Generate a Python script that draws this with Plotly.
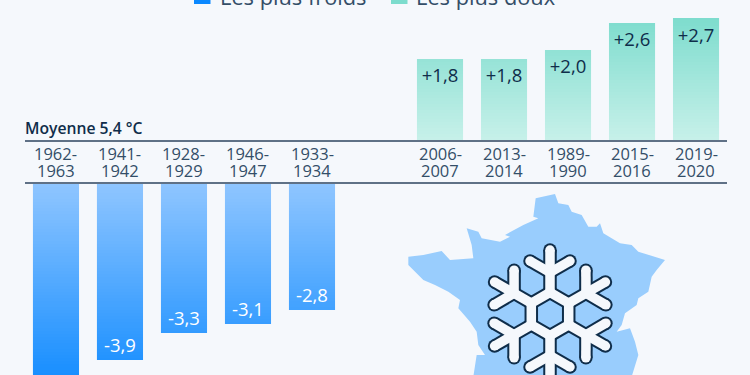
import math
import plotly.graph_objects as go

cold_periods = ["1962-<br>1963", "1941-<br>1942", "1928-<br>1929", "1946-<br>1947", "1933-<br>1934"]
cold_values = [-4.7, -3.9, -3.3, -3.1, -2.8]
cold_labels = ["-4,7", "-3,9", "-3,3", "-3,1", "-2,8"]
warm_periods = ["2006-<br>2007", "2013-<br>2014", "1989-<br>1990", "2015-<br>2016", "2019-<br>2020"]
warm_values = [1.8, 1.8, 2.0, 2.6, 2.7]
warm_labels = ["+1,8", "+1,8", "+2,0", "+2,6", "+2,7"]
spacer = " "
all_cats = cold_periods + [spacer] + warm_periods

BG = "#f5f8fc"
DARK = "#0f2d4a"
TICK = "#334e68"
LINE = "#5f7186"
FONT = "Open Sans"
PX_PER_UNIT = 45.0
W, H = 750, 375
BASE_TOP, BASE_BOT = 140, 184


def mix(a, b, t):
    return "rgb(%d,%d,%d)" % tuple(round(a[i] + (b[i] - a[i]) * t) for i in range(3))


fig = go.Figure()
STEP = 1 / 15


def gradient(values, cats, xa, ya, c0, c1, vmax):
    sign = 1 if values[0] > 0 else -1
    n = int(vmax / STEP) + 1
    for i in range(n):
        lo, hi = i * STEP, (i + 1) * STEP
        heights = [max(0, min(abs(v), hi) - lo) * sign for v in values]
        fig.add_bar(x=cats, y=heights, base=lo * sign, xaxis=xa, yaxis=ya, width=0.72,
                    marker=dict(color=mix(c0, c1, i / n), line=dict(width=0)),
                    hoverinfo="skip", showlegend=False)


gradient(warm_values, warm_periods, "x", "y", (198, 240, 233), (124, 220, 205), 2.7)
gradient(cold_values, cold_periods, "x2", "y2", (142, 197, 255), (10, 136, 255), 4.7)

fig.add_bar(x=warm_periods, y=warm_values, text=warm_labels, xaxis="x", yaxis="y", width=0.72,
            marker=dict(color="rgba(0,0,0,0)", line=dict(width=0)),
            textposition="inside", insidetextanchor="end", textangle=0, constraintext="none",
            insidetextfont=dict(family=FONT, size=18.5, color=DARK, weight=500),
            hoverinfo="skip", showlegend=False)
fig.add_bar(x=cold_periods, y=cold_values, text=cold_labels, xaxis="x2", yaxis="y2", width=0.72,
            marker=dict(color="rgba(0,0,0,0)", line=dict(width=0)),
            textposition="inside", insidetextanchor="end", textangle=0, constraintext="none",
            insidetextfont=dict(family=FONT, size=18.5, color="#ffffff", weight=500),
            hoverinfo="skip", showlegend=False)

# Decorative map of France (zoom-crop outline, converted to page pixels)
map_outline = [(437,40),(495,27),(505,55),(535,60),(545,80),(575,90),(595,125),(620,125),(630,115),(640,145),
               (690,175),(725,180),(745,200),(790,215),(825,225),(800,255),(785,275),(775,320),(745,340),(740,360),
               (705,385),(695,420),(680,440),(720,430),(735,470),(745,510),(735,540),(725,575),(250,575),(255,540),
               (260,510),(285,510),(265,480),(260,440),(240,410),(205,370),(210,345),(175,320),(135,300),(100,285),
               (80,265),(55,240),(55,215),(100,210),(155,198),(180,225),(250,220),(245,180),(230,130),(265,140),
               (275,160),(330,170),(360,155),(345,150),(400,120),(445,100),(430,95),(437,40)]
fig.add_scatter(x=[390 + p[0] / 3 for p in map_outline], y=[185 + p[1] / 3 for p in map_outline],
                xaxis="x3", yaxis="y3", mode="lines", fill="toself", fillcolor="#99cdfd",
                line=dict(width=0, color="#99cdfd"), hoverinfo="skip", showlegend=False)

# Decorative snowflake
cx, cy = 550, 314
R_RING, R_NODE, R_TIP = 21.6, 41.5, 64
BX, BY = 20, 53
sx, sy = [], []
for k in range(6):
    a = math.radians(60 * k)
    ca, sa = math.cos(a), math.sin(a)
    rot = lambda x, y: (cx + x * ca - y * sa, cy + x * sa + y * ca)
    for seg in ([(0, -R_RING), (0, -R_TIP)], [(0, -R_NODE), (-BX, -BY)], [(0, -R_NODE), (BX, -BY)]):
        for p in seg:
            q = rot(*p)
            sx.append(q[0]); sy.append(q[1])
        sx.append(None); sy.append(None)
ring = [(cx + R_RING * math.sin(math.radians(60 * k)), cy - R_RING * math.cos(math.radians(60 * k))) for k in range(7)]
sx += [p[0] for p in ring]
sy += [p[1] for p in ring]
for color, width in ((DARK, 13.5), (BG, 9.5)):
    fig.add_scatter(x=sx, y=sy, xaxis="x3", yaxis="y3", mode="lines+markers",
                    line=dict(color=color, width=width),
                    marker=dict(color=color, size=width, line=dict(width=0)),
                    hoverinfo="skip", showlegend=False)

# Two-line category labels with the reference's tight line spacing
tick_annotations = []
for cat in cold_periods + warm_periods:
    for line_text, py in zip(cat.split("<br>"), (153.5, 170.5)):
        tick_annotations.append(dict(text=line_text, xref="x", yref="paper", x=cat, y=1 - py / H,
                                     xanchor="center", yanchor="middle", showarrow=False,
                                     font=dict(family=FONT, size=16.5, color=TICK)))

fig.update_layout(
    width=W, height=H, margin=dict(l=0, r=0, t=0, b=0), autosize=False,
    paper_bgcolor=BG, plot_bgcolor="rgba(0,0,0,0)", barmode="overlay", showlegend=False,
    font=dict(family=FONT, color=TICK),
    xaxis=dict(domain=[25 / W, 727 / W], anchor="y", type="category", categoryorder="array",
               categoryarray=all_cats, range=[-0.484, 10.484], showticklabels=False,
               showgrid=False, zeroline=False, showline=True, linecolor=LINE, linewidth=1.5, ticks=""),
    yaxis=dict(domain=[(H - BASE_TOP) / H, 1], anchor="x", range=[0, BASE_TOP / PX_PER_UNIT], visible=False),
    xaxis2=dict(domain=[25 / W, 727 / W], anchor="y2", side="top", type="category", categoryorder="array",
                categoryarray=all_cats, range=[-0.484, 10.484], showticklabels=False, showgrid=False,
                zeroline=False, showline=True, linecolor=LINE, linewidth=1.5, ticks=""),
    yaxis2=dict(domain=[0, (H - BASE_BOT) / H], anchor="x2", range=[-(H - BASE_BOT) / PX_PER_UNIT, 0], visible=False),
    xaxis3=dict(domain=[0, 1], anchor="y3", range=[0, W], visible=False),
    yaxis3=dict(domain=[0, 1], anchor="x3", range=[H, 0], visible=False),
    annotations=tick_annotations + [
        dict(text="Moyenne 5,4 °C", xref="paper", yref="paper", x=23 / W, y=1 - 128 / H, xanchor="left",
             yanchor="middle", showarrow=False, font=dict(family=FONT, size=15.7, color=DARK, weight=600)),
        dict(text="Les plus froids", xref="paper", yref="paper", x=218 / W, y=1 + 4 / H, xanchor="left",
             yanchor="middle", showarrow=False, font=dict(family=FONT, size=21.8, color=TICK)),
        dict(text="Les plus doux", xref="paper", yref="paper", x=414 / W, y=1 + 4 / H, xanchor="left",
             yanchor="middle", showarrow=False, font=dict(family=FONT, size=21.8, color=TICK)),
    ],
    shapes=[
        dict(type="rect", xref="paper", yref="paper", x0=194 / W, x1=210.5 / W, y0=1 - 4 / H, y1=1.02,
             fillcolor="#0a88ff", line=dict(width=0)),
        dict(type="rect", xref="paper", yref="paper", x0=391 / W, x1=407.5 / W, y0=1 - 4 / H, y1=1.02,
             fillcolor="#7cdccd", line=dict(width=0)),
    ],
)
fig.write_html("out.html", config=dict(displayModeBar=False),
               post_script="document.documentElement.style.background='#f5f8fc';document.body.style.margin='0';document.body.style.overflow='hidden';")
